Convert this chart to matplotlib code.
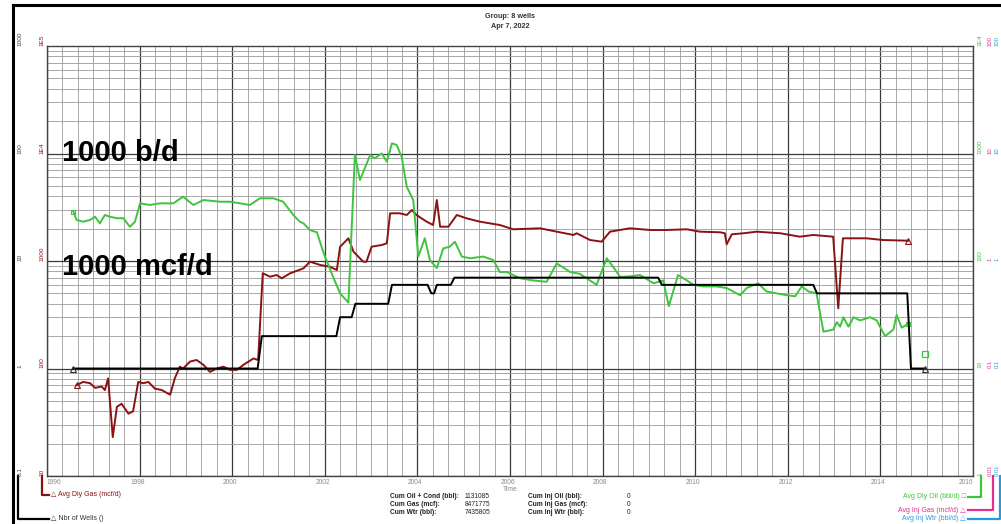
import matplotlib
matplotlib.use('Agg')
import matplotlib.pyplot as plt
from matplotlib.lines import Line2D
from matplotlib.transforms import blended_transform_factory
import numpy as np

plt.rcParams['font.family'] = ['Liberation Sans', 'DejaVu Sans']

# Avg daily gas (mcf/d)
gas_years = [1996.64, 1996.78, 1996.93, 1997.04, 1997.18, 1997.25, 1997.32, 1997.42, 1997.51, 1997.61,
             1997.76, 1997.86, 1997.97, 1998.08, 1998.19, 1998.33, 1998.48, 1998.66, 1998.76, 1998.87,
             1998.94, 1999.09, 1999.23, 1999.38, 1999.52, 1999.67, 1999.81, 1999.95, 2000.10, 2000.24,
             2000.46, 2000.56, 2000.66, 2000.82, 2000.96, 2001.07, 2001.25, 2001.54, 2001.68, 2001.90,
             2002.11, 2002.26, 2002.33, 2002.51, 2002.62, 2002.83, 2002.90, 2003.01, 2003.23, 2003.34,
             2003.41, 2003.62, 2003.77, 2003.88, 2003.98, 2004.20, 2004.34, 2004.42, 2004.49, 2004.67,
             2004.85, 2005.06, 2005.35, 2005.78, 2006.07, 2006.65, 2007.01, 2007.37, 2007.44, 2007.73,
             2007.98, 2008.16, 2008.59, 2009.02, 2009.38, 2009.82, 2010.10, 2010.54, 2010.64, 2010.68,
             2010.79, 2011.04, 2011.33, 2011.84, 2012.26, 2012.55, 2012.98, 2013.09, 2013.19, 2013.41,
             2013.70, 2014.06, 2014.60]
gas = [70, 75, 73, 66, 68, 63, 81, 23, 44, 47,
       38, 40, 75, 73, 75, 65, 63, 57, 81, 104,
       100, 116, 120, 108, 93, 100, 104, 97, 97, 108,
       124, 120, 769, 714, 741, 690, 768, 855, 985, 918,
       885, 824, 1358, 1626, 1221, 985, 985, 1358, 1409, 1461,
       2778, 2778, 2679, 2981, 2679, 2321, 2162, 3693, 2085, 2085,
       2679, 2496, 2321, 2162, 1972, 2015, 1874, 1746, 1811, 1567,
       1513, 1874, 2015, 1943, 1943, 1972, 1874, 1849, 1811, 1430,
       1771, 1811, 1874, 1811, 1683, 1746, 1683, 363, 1626, 1626,
       1626, 1567, 1545]

# Avg daily oil (bbl/d)
oil_years = [1996.57, 1996.64, 1996.78, 1996.93, 1997.04, 1997.14, 1997.25, 1997.36, 1997.51, 1997.65,
             1997.79, 1997.90, 1998.01, 1998.22, 1998.44, 1998.73, 1998.94, 1999.16, 1999.38, 1999.74,
             1999.95, 2000.17, 2000.38, 2000.60, 2000.89, 2001.10, 2001.32, 2001.46, 2001.54, 2001.68,
             2001.83, 2001.97, 2002.18, 2002.33, 2002.51, 2002.65, 2002.76, 2002.98, 2003.08, 2003.23,
             2003.34, 2003.45, 2003.55, 2003.66, 2003.77, 2003.91, 2004.02, 2004.16, 2004.27, 2004.42,
             2004.56, 2004.70, 2004.81, 2004.96, 2005.14, 2005.42, 2005.64, 2005.78, 2005.93, 2006.22,
             2006.50, 2006.79, 2007.01, 2007.30, 2007.51, 2007.87, 2008.09, 2008.23, 2008.38, 2008.59,
             2008.81, 2009.10, 2009.31, 2009.43, 2009.63, 2009.82, 2009.96, 2010.17, 2010.32, 2010.46,
             2010.68, 2010.82, 2010.97, 2011.11, 2011.36, 2011.54, 2011.76, 2011.98, 2012.16, 2012.30,
             2012.45, 2012.62, 2012.77, 2012.98, 2013.06, 2013.13, 2013.20, 2013.31, 2013.42, 2013.56,
             2013.78, 2013.92, 2014.10, 2014.28, 2014.35, 2014.46, 2014.60]
oil = [287, 241, 232, 241, 258, 224, 268, 258, 250, 250,
       208, 232, 344, 332, 344, 344, 397, 332, 369, 356,
       356, 344, 332, 383, 383, 356, 268, 232, 224, 194,
       185, 120, 71, 50, 41, 968, 567, 968, 902, 1002,
       839, 1244, 1200, 934, 491, 369, 110, 163, 102, 86,
       131, 136, 151, 110, 106, 110, 102, 79, 79, 69,
       66, 64, 95, 79, 76, 60, 106, 88, 71, 72,
       74, 62, 66, 38, 74, 66, 60, 58, 58, 58,
       56, 52, 48, 56, 62, 52, 50, 48, 47, 58,
       52, 50, 22, 23, 27, 24.5, 30, 24.5, 30, 28,
       30, 28, 20, 23, 31.5, 24, 26]
oil_last_year = [2014.96]
oil_last = [13.6]

# Number of wells
wells_years = [1996.56, 2000.55, 2000.64, 2002.25, 2002.33, 2002.58, 2002.66, 2003.37, 2003.45,
               2004.22, 2004.30, 2004.36, 2004.42, 2004.72, 2004.80, 2009.20, 2009.28, 2012.55,
               2012.63, 2014.58, 2014.66, 2014.96]
wells = [1, 1, 2, 2, 3, 3, 4, 4, 6, 6, 5, 5, 6, 6, 7, 7, 6, 6, 5, 5, 1, 1]

year_ticks = list(range(1996, 2017, 2))
wells_labels = ['0.1', '1', '10', '100', '1000']
gas_labels = ['10', '100', '1000', '1E4', '1E5']
oil_labels = ['1', '10', '100', '1000', '1E4']
inj_labels = ['0.01', '0.1', '1', '10', '100']

cum_names = ['Cum Oil + Cond (bbl):', 'Cum Gas (mcf):', 'Cum Wtr (bbl):']
cum_values = ['1131085', '8471775', '7435805']
inj_names = ['Cum Inj Oil (bbl):', 'Cum Inj Gas (mcf):', 'Cum Inj Wtr (bbl):']
inj_values = ['0', '0', '0']

W, H = 1001, 524
fx = lambda px: px / W
fy = lambda py: 1 - py / H

RED = '#8b1212'
GREEN = '#3ec43e'
MAGENTA = '#e0308a'
BLUE = '#2a9ae0'
GRAY = '#8a8a8a'

fig = plt.figure(figsize=(W / 100, H / 100), dpi=100)
ax = fig.add_axes([fx(47), fy(476), fx(973) - fx(47), fy(46) - fy(476)])
ax.set_xlim(1996, 2016)
ax.set_yscale('log')
ax.set_ylim(10, 1e5)

# grid: every 4 months, darker every 2 years; log decades darker
for t in np.arange(1996, 2016.01, 1 / 3):
    major = abs((t - 1996) % 2) < 1e-6 or abs((t - 1996) % 2 - 2) < 1e-6
    ax.axvline(t, color='#3a3a3a' if major else '#9a9a9a', lw=0.9 if major else 0.6, zorder=0)
for d in [10, 100, 1000, 1e4]:
    for m in range(1, 10):
        ax.axhline(d * m, color='#3a3a3a' if m == 1 else '#9a9a9a', lw=0.9 if m == 1 else 0.6, zorder=0)
ax.set_xticks([])
ax.set_yticks([])
ax.minorticks_off()
for s in ax.spines.values():
    s.set_color('#444444')
    s.set_linewidth(1.0)

ax.plot(gas_years, gas, color=RED, lw=1.4, zorder=3)
ax.plot([gas_years[0], gas_years[-1]], [gas[0], gas[-1]], ls='none', marker='^',
        mfc='none', mec=RED, ms=4, mew=0.8, zorder=4)

ax_oil = ax.twinx()
ax_oil.set_yscale('log')
ax_oil.set_ylim(1, 1e4)
ax_oil.plot(oil_years, oil, color=GREEN, lw=1.4)
ax_oil.plot([oil_years[0], oil_years[-1]], [oil[0], oil[-1]], ls='none', marker='s',
            mfc='none', mec=GREEN, ms=3.5, mew=0.8)
ax_oil.plot(oil_last_year, oil_last, ls='none', marker='s', mfc='none', mec=GREEN, ms=5, mew=0.9)

ax_w = ax.twinx()
ax_w.set_yscale('log')
ax_w.set_ylim(0.1, 1000)
ax_w.plot(wells_years, wells, color='black', lw=1.4)
ax_w.plot([wells_years[0], wells_years[-1]], [wells[0], wells[-1]], ls='none', marker='^',
          mfc='none', mec='#333333', ms=4, mew=0.8)

for a in (ax_oil, ax_w):
    a.set_yticks([])
    a.minorticks_off()
    a.tick_params(which='both', length=0, labelright=False)
    for s in a.spines.values():
        s.set_visible(False)
ax.set_xlim(1996, 2016)

# x tick labels
xt = blended_transform_factory(ax.transData, fig.transFigure)
for i, yr in enumerate(year_ticks):
    inner = 0 < i < len(year_ticks) - 1
    ha = 'center' if inner else ('left' if i == 0 else 'right')
    ax.text(yr - (0.05 if inner else 0), fy(483), str(yr), transform=xt,
            ha=ha, va='center', fontsize=4.8, color=GRAY)
ax.text(2006, fy(489.5), 'Time', transform=xt, ha='center', va='center', fontsize=4.8, color=GRAY)


# y axis labels (rotated, bottom end at each decade)
def axis_labels(target_ax, px, labels, color, size=4.6):
    tr = blended_transform_factory(fig.transFigure, target_ax.transData)
    lo = target_ax.get_ylim()[0]
    for k, lab in enumerate(labels):
        fig.text(fx(px), lo * 10 ** k, lab, transform=tr, rotation=90, ha='center', va='bottom',
                 fontsize=size, color=color)


axis_labels(ax_w, 20, wells_labels, '#444444')
axis_labels(ax, 42, gas_labels, RED)
axis_labels(ax_oil, 980, oil_labels, GREEN)
axis_labels(ax_oil, 990, inj_labels, MAGENTA, 4.2)
axis_labels(ax_oil, 997, inj_labels, BLUE, 4.2)


# axis legend brackets
def bracket(px, y_end, x_end, color):
    fig.add_artist(Line2D([fx(px), fx(px), fx(x_end)], [fy(476), fy(y_end), fy(y_end)],
                          color=color, lw=1.6))


bracket(18, 519, 49, 'black')
bracket(42, 495, 49, RED)
fig.text(fx(51), fy(495), '△ Avg Dly Gas (mcf/d)', ha='left', va='center', fontsize=5, color=RED,
         family=['Liberation Sans', 'DejaVu Sans'])
fig.text(fx(51), fy(519), '△ Nbr of Wells ()', ha='left', va='center', fontsize=5, color='#333333',
         family=['Liberation Sans', 'DejaVu Sans'])
bracket(981, 497, 968, GREEN)
bracket(993, 510, 968, MAGENTA)
bracket(999.5, 519, 968, BLUE)
fig.text(fx(966), fy(497), 'Avg Dly Oil (bbl/d) □', ha='right', va='center', fontsize=5, color=GREEN,
         family=['Liberation Sans', 'DejaVu Sans'])
fig.text(fx(966), fy(510), 'Avg Inj Gas (mcf/d) △', ha='right', va='center', fontsize=5, color=MAGENTA,
         family=['Liberation Sans', 'DejaVu Sans'])
fig.text(fx(966), fy(519), 'Avg Inj Wtr (bbl/d) △', ha='right', va='center', fontsize=5, color=BLUE,
         family=['Liberation Sans', 'DejaVu Sans'])

# cumulative block
for k in range(3):
    yy = fy(496 + 8 * k)
    fig.text(fx(390), yy, cum_names[k], ha='left', va='center', fontsize=4.8, fontweight='bold', color='#222222')
    fig.text(fx(490), yy, cum_values[k], ha='right', va='center', fontsize=4.8, color='#222222')
    fig.text(fx(528), yy, inj_names[k], ha='left', va='center', fontsize=4.8, fontweight='bold', color='#222222')
    fig.text(fx(630), yy, inj_values[k], ha='right', va='center', fontsize=4.8, color='#222222')

# title
fig.text(fx(510), fy(16), 'Group: 8 wells', ha='center', va='center', fontsize=5.2, fontweight='bold', color='#333333')
fig.text(fx(510), fy(26), 'Apr 7, 2022', ha='center', va='center', fontsize=5.2, fontweight='bold', color='#333333')

# annotations
fig.text(fx(62), fy(153), '1000 b/d', ha='left', va='center', fontsize=21, fontweight='bold', color='black')
fig.text(fx(62), fy(267), '1000 mcf/d', ha='left', va='center', fontsize=21, fontweight='bold', color='black')

# screenshot frame
fig.add_artist(Line2D([fx(13), fx(13)], [0, fy(5)], color='black', lw=2.2))
fig.add_artist(Line2D([fx(13), 1], [fy(5), fy(5)], color='black', lw=2.2))

fig.savefig('out.png', dpi=100)
